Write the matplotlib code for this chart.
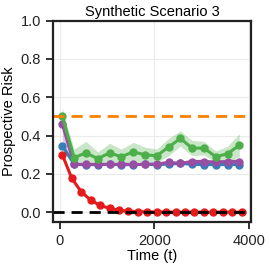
import matplotlib
matplotlib.use("Agg")
import matplotlib.pyplot as plt
import numpy as np

plt.rcParams['font.family'] = ['Liberation Sans', 'DejaVu Sans']

# time steps
t_fast = [50, 250, 450, 650, 850, 1050, 1250, 1450, 1650, 1850,
          2050, 2250, 2450, 2650, 2850, 3050, 3250, 3450, 3650, 3850]
t_slow = [50, 300, 550, 800, 1050, 1300, 1550, 1800, 2050, 2300,
          2550, 2800, 3050, 3300, 3550, 3800]

# prospective risk per method
red = [0.30, 0.177, 0.107, 0.064, 0.036, 0.021, 0.011, 0.006, 0.004, 0.003,
       0.002, 0.002, 0.001, 0.001, 0.001, 0.001, 0.001, 0.001, 0.001, 0.001]
red_sd = [0.012, 0.008, 0.006, 0.005, 0.004, 0.003, 0.002, 0.002, 0.001, 0.001,
          0.001, 0.001, 0.001, 0.001, 0.001, 0.001, 0.001, 0.001, 0.001, 0.001]
blue = [0.348, 0.25, 0.248, 0.249, 0.25, 0.248, 0.249, 0.25,
        0.249, 0.252, 0.256, 0.25, 0.249, 0.249, 0.249, 0.249]
blue_sd = [0.02, 0.003, 0.003, 0.003, 0.003, 0.003, 0.003, 0.003,
           0.003, 0.003, 0.003, 0.003, 0.003, 0.003, 0.003, 0.003]
green = [0.50, 0.285, 0.31, 0.28, 0.31, 0.29, 0.315, 0.30,
         0.295, 0.34, 0.385, 0.335, 0.335, 0.29, 0.305, 0.35]
green_sd = [0.03, 0.045, 0.06, 0.035, 0.05, 0.04, 0.05, 0.04,
            0.035, 0.045, 0.04, 0.04, 0.035, 0.03, 0.04, 0.06]
purple = [0.46, 0.25, 0.25, 0.25, 0.25, 0.25, 0.25, 0.25,
          0.252, 0.26, 0.255, 0.265, 0.265, 0.262, 0.265, 0.265]
purple_sd = [0.085, 0.004, 0.004, 0.004, 0.004, 0.004, 0.005, 0.006,
             0.008, 0.012, 0.01, 0.012, 0.012, 0.01, 0.012, 0.014]

bayes_risk = 0.0
chance = 0.5

fig = plt.figure(figsize=(2.7, 2.7), dpi=100)
ax = fig.add_axes([0.196, 0.178, 0.734, 0.746])

series = [
    (t_slow, blue, blue_sd, '#377eb8'),
    (t_slow, purple, purple_sd, '#984ea3'),
    (t_slow, green, green_sd, '#4daf4a'),
    (t_fast, red, red_sd, '#e41a1c'),
]
for tt, m, s, c in series:
    tt = np.array(tt)
    m = np.array(m)
    s = np.array(s)
    ax.fill_between(tt, m - s, m + s, color=c, alpha=0.3, lw=0)
    ax.plot(tt, m, color=c, lw=2.2, marker='o', ms=5)

ax.axhline(chance, color='#ff7f00', ls='--', lw=2, dashes=(4, 2.5))
ax.axhline(bayes_risk, color='black', ls='--', lw=2, dashes=(4, 2.5))

ax.set_xlim(-150, 4050)
ax.set_ylim(-0.05, 1.0)
ax.set_xticks([0, 2000, 4000])
ax.set_yticks([0.0, 0.2, 0.4, 0.6, 0.8, 1.0])
ax.grid(True, color='#ebebeb', lw=0.8)
ax.set_axisbelow(True)
for sp in ax.spines.values():
    sp.set_linewidth(1.6)
    sp.set_color('#222222')
ax.tick_params(direction='out', length=5, width=1.3, labelsize=10.5,
               color='#222222', labelcolor='#222222')

ax.set_title('Synthetic Scenario 3', fontsize=10.5, pad=3)
ax.set_xlabel('Time (t)', fontsize=10.5, labelpad=1)
ax.set_ylabel('Prospective Risk', fontsize=10.5, labelpad=3)

fig.savefig('out.png', dpi=100)
plt.close(fig)
